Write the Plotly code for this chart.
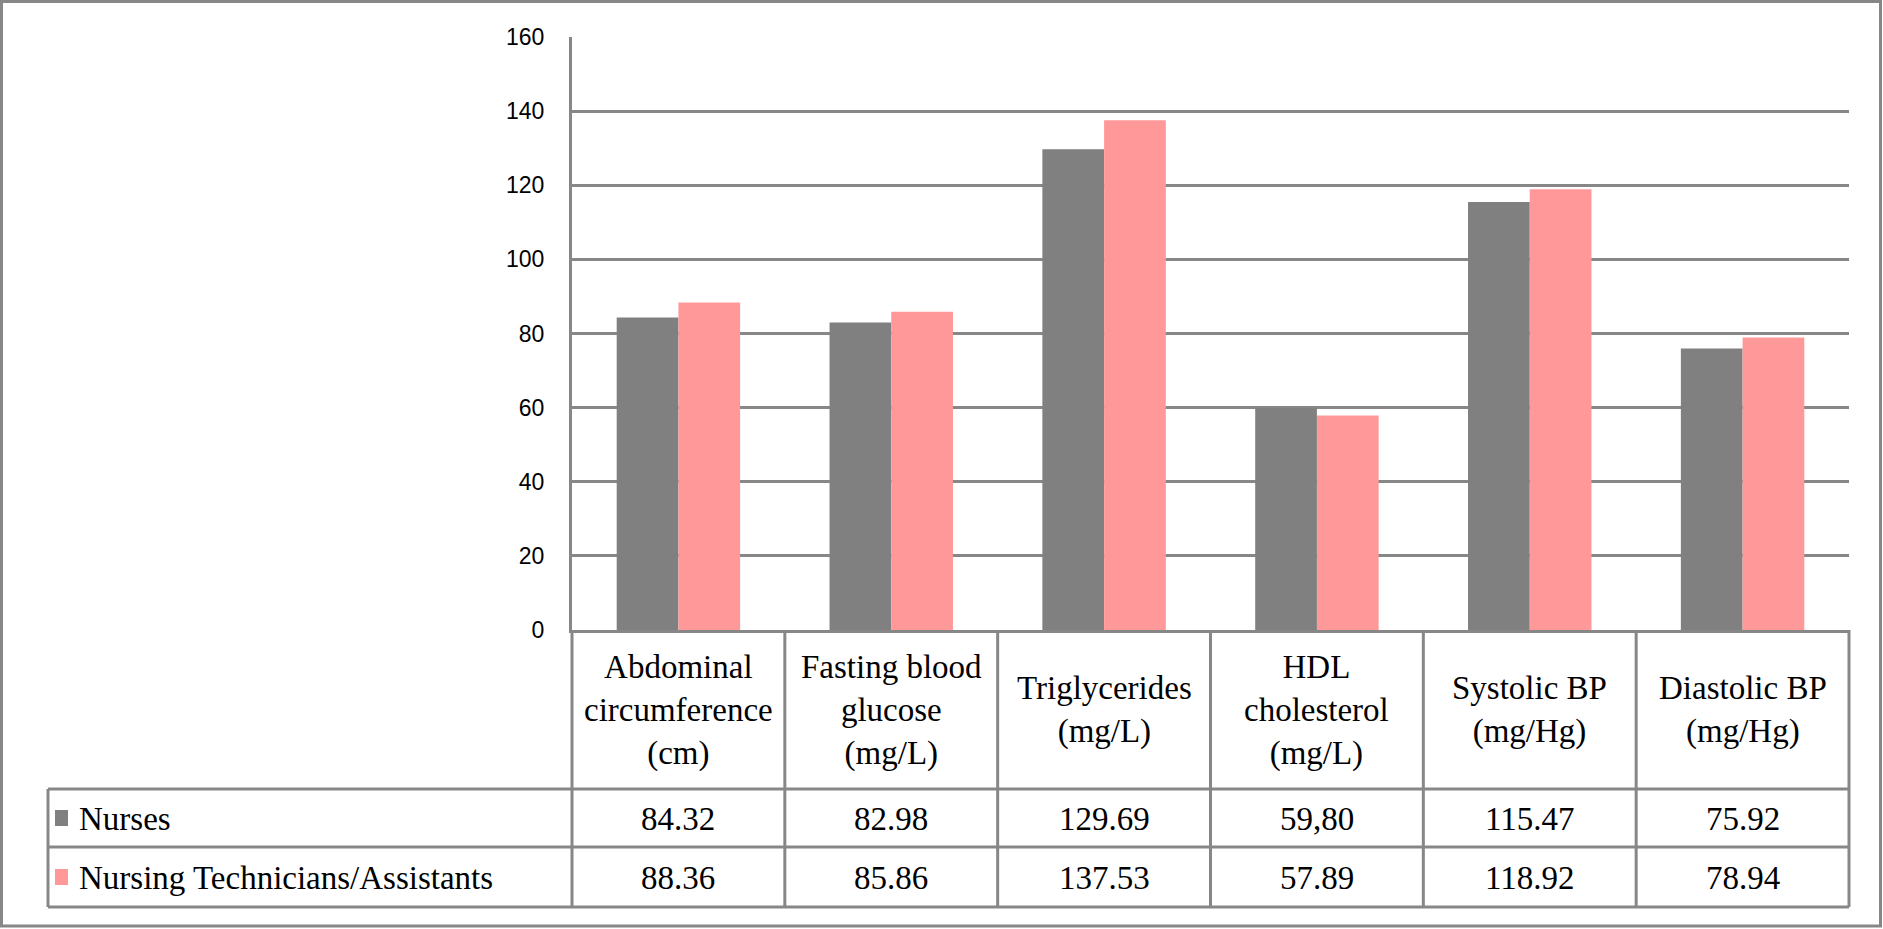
import plotly.graph_objects as go

categories = ["Abdominal", "Glucose", "Triglycerides", "HDL", "Systolic", "Diastolic"]
header_labels = [
    "Abdominal<br>circumference<br>(cm)",
    "Fasting blood<br>glucose<br>(mg/L)",
    "Triglycerides<br>(mg/L)",
    "HDL<br>cholesterol<br>(mg/L)",
    "Systolic BP<br>(mg/Hg)",
    "Diastolic BP<br>(mg/Hg)",
]
nurses = [84.32, 82.98, 129.69, 59.80, 115.47, 75.92]
techs = [88.36, 85.86, 137.53, 57.89, 118.92, 78.94]
nurses_labels = ["84.32", "82.98", "129.69", "59,80", "115.47", "75.92"]
techs_labels = ["88.36", "85.86", "137.53", "57.89", "118.92", "78.94"]
series_names = ["Nurses", "Nursing Technicians/Assistants"]
y_ticks = [0, 20, 40, 60, 80, 100, 120, 140, 160]

GRAY = "#808080"
PINK = "#FF9999"
LINE = "#878787"
SERIF = "'Liberation Serif', 'Times New Roman', serif"
FS = 33

W, H = 1883, 929
L, R, T, B = 572, 1849, 37, 630  # plot area pixels


def px(x):
    return (x - L) / (R - L)


def py(y):
    return (B - y) / (B - T)


fig = go.Figure()
fig.add_trace(go.Bar(x=categories, y=nurses, name=series_names[0], marker_color=GRAY,
                     marker_line_width=0))
fig.add_trace(go.Bar(x=categories, y=techs, name=series_names[1], marker_color=PINK,
                     marker_line_width=0))

shapes = []
lw = 3
# outer border
shapes.append(dict(type="rect", xref="paper", yref="paper", x0=px(1.5), x1=px(W - 2.5),
                   y0=py(1.5), y1=py(H - 3), line=dict(color=LINE, width=lw)))
# table horizontal lines
for yy in [789, 847, 907]:
    shapes.append(dict(type="line", xref="paper", yref="paper", x0=px(48), x1=px(R),
                       y0=py(yy), y1=py(yy), line=dict(color=LINE, width=lw)))
# vertical lines in table
col_w = (R - L) / len(categories)
for i in range(len(categories) + 1):
    xx = L + i * col_w
    shapes.append(dict(type="line", xref="paper", yref="paper", x0=px(xx), x1=px(xx),
                       y0=py(B), y1=py(907), line=dict(color=LINE, width=lw)))
shapes.append(dict(type="line", xref="paper", yref="paper", x0=px(48), x1=px(48),
                   y0=py(789), y1=py(907), line=dict(color=LINE, width=lw)))
# legend squares
for yc, col in [(818, GRAY), (877, PINK)]:
    shapes.append(dict(type="rect", xref="paper", yref="paper", x0=px(55), x1=px(68),
                       y0=py(yc - 8), y1=py(yc + 8), fillcolor=col, line=dict(width=0)))

annotations = []
for cat, hl in zip(categories, header_labels):
    annotations.append(dict(x=cat, y=py(710), xref="x", yref="paper", text=hl,
                            showarrow=False, font=dict(family=SERIF, size=FS, color="black"),
                            xanchor="center", yanchor="middle", align="center"))
for cat, lab in zip(categories, nurses_labels):
    annotations.append(dict(x=cat, y=py(819), xref="x", yref="paper", text=lab,
                            showarrow=False, font=dict(family=SERIF, size=FS, color="black"),
                            xanchor="center", yanchor="middle"))
for cat, lab in zip(categories, techs_labels):
    annotations.append(dict(x=cat, y=py(878), xref="x", yref="paper", text=lab,
                            showarrow=False, font=dict(family=SERIF, size=FS, color="black"),
                            xanchor="center", yanchor="middle"))
for name, yc in zip(series_names, [819, 878]):
    annotations.append(dict(x=px(77), y=py(yc), xref="paper", yref="paper", text=name,
                            showarrow=False, font=dict(family=SERIF, size=FS, color="black"),
                            xanchor="left", yanchor="middle"))

fig.update_layout(
    width=W, height=H,
    margin=dict(l=L, r=W - R, t=T, b=H - B, pad=0),
    paper_bgcolor="white", plot_bgcolor="white",
    barmode="group", bargap=0.42, bargroupgap=0,
    showlegend=False,
    shapes=shapes, annotations=annotations,
    xaxis=dict(showticklabels=False, showgrid=False, showline=True, linecolor=LINE,
               linewidth=lw, ticks="", zeroline=False),
    yaxis=dict(range=[0, 160], tickvals=y_ticks, showgrid=True, gridcolor=LINE, gridwidth=lw,
               showline=True, linecolor=LINE, linewidth=lw, zeroline=False, ticks="",
               ticklabelstandoff=20,
               tickfont=dict(family="'Liberation Sans Narrow', 'Arial Narrow', 'Liberation Sans', sans-serif",
                             size=23, color="black")),
)

fig.write_html("out.html", config={"displayModeBar": False},
               post_script="document.body.style.margin='0';document.body.style.overflow='hidden';")
